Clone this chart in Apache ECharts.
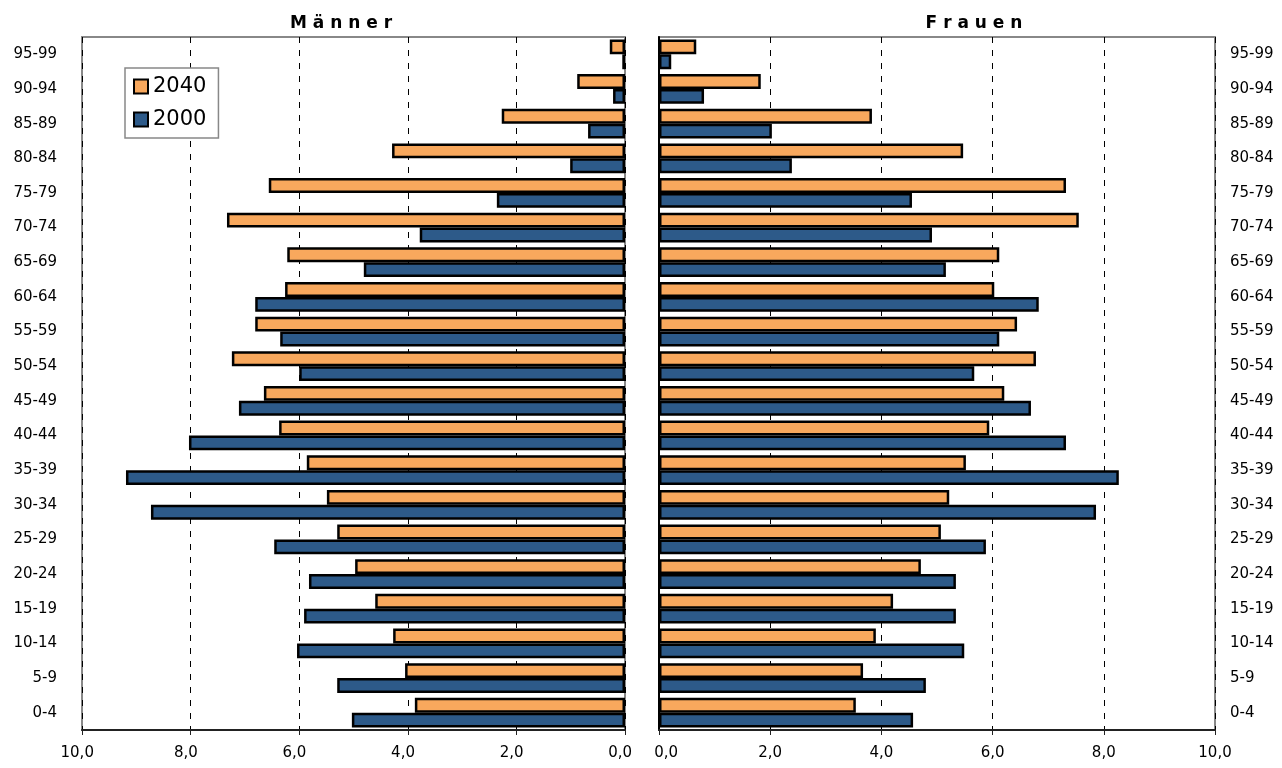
<!DOCTYPE html>
<html>
<head>
<meta charset="utf-8">
<script src="https://cdn.jsdelivr.net/npm/echarts@6/dist/echarts.min.js"></script>
<style>
  html, body { margin: 0; padding: 0; background: #fff; }
  #chart { width: 1282px; height: 768px; }
</style>
</head>
<body>
<div id="chart"></div>
<script>
// Altersgruppen, von unten nach oben
const ageGroups = ['0-4', '5-9', '10-14', '15-19', '20-24', '25-29', '30-34', '35-39', '40-44', '45-49',
  '50-54', '55-59', '60-64', '65-69', '70-74', '75-79', '80-84', '85-89', '90-94', '95-99']

// Männer (Prozent)
const men2040 = [3.87, 4.05, 4.27, 4.60, 4.97, 5.30, 5.49, 5.86, 6.37, 6.65,
  7.24, 6.81, 6.26, 6.22, 7.33, 6.56, 4.29, 2.27, 0.88, 0.28]
const men2000 = [5.03, 5.30, 6.04, 5.91, 5.82, 6.46, 8.73, 9.19, 8.03, 7.11,
  6.00, 6.35, 6.81, 4.81, 3.78, 2.36, 1.01, 0.68, 0.22, 0.05]

// Frauen (Prozent)
const women2040 = [3.54, 3.67, 3.90, 4.21, 4.71, 5.07, 5.22, 5.52, 5.94, 6.21,
  6.78, 6.44, 6.03, 6.12, 7.55, 7.32, 5.47, 3.83, 1.83, 0.67]
const women2000 = [4.57, 4.80, 5.49, 5.34, 5.34, 5.88, 7.86, 8.27, 7.32, 6.69,
  5.67, 6.12, 6.83, 5.16, 4.91, 4.55, 2.39, 2.03, 0.81, 0.22]

const xTicks = [0, 2, 4, 6, 8, 10]

const colors = { y2040: '#F8A85D', y2000: '#2D5A89' }
const fontFamily = '"DejaVu Sans", sans-serif'

const chart = echarts.init(document.getElementById('chart'))

const fmt = v => v.toFixed(1).replace('.', ',')
const nbsp = '\u00a0'

const xAxisBase = (gridIndex, inverse, formatter) => ({
  type: 'value',
  gridIndex,
  inverse,
  min: xTicks[0],
  max: xTicks[xTicks.length - 1],
  interval: 2,
  axisLine: { show: true, lineStyle: { color: '#222', width: 2 } },
  axisTick: { show: true, length: 5, lineStyle: { color: '#222' } },
  axisLabel: { formatter, color: '#000', fontSize: 15, fontFamily, margin: 16, showMinLabel: true, showMaxLabel: true },
  splitLine: { show: true, lineStyle: { color: '#000', type: [6, 7], width: 1 } }
})

const barSeries = (name, data, xi, yi, color) => ({
  name,
  type: 'bar',
  xAxisIndex: xi,
  yAxisIndex: yi,
  data,
  barGap: '0%',
  barCategoryGap: '14%',
  itemStyle: { color, borderColor: '#000', borderWidth: 2.5 }
})

const option = {
  animation: false,
  title: [
    { text: 'M ä n n e r', left: 336, top: 10, textAlign: 'center',
      textStyle: { fontSize: 17, fontWeight: 'bold', color: '#000', fontFamily } },
    { text: 'F r a u e n', left: 969, top: 10, textAlign: 'center',
      textStyle: { fontSize: 17, fontWeight: 'bold', color: '#000', fontFamily } }
  ],
  legend: {
    data: ['2040', '2000'],
    orient: 'vertical',
    left: 125,
    top: 68,
    padding: [8, 12, 8, 8],
    itemGap: 12,
    itemWidth: 14,
    itemHeight: 14,
    icon: 'rect',
    backgroundColor: '#fff',
    borderColor: '#888',
    borderWidth: 1.5,
    itemStyle: { borderColor: '#000', borderWidth: 2 },
    textStyle: { fontSize: 21, color: '#000', fontFamily }
  },
  grid: [
    { left: 82, right: 657, top: 37, bottom: 38, show: true, borderColor: '#888', borderWidth: 2, backgroundColor: '#fff' },
    { left: 659, right: 67, top: 37, bottom: 38, show: true, borderColor: '#888', borderWidth: 2, backgroundColor: '#fff' }
  ],
  xAxis: [
    // Männer: Beschriftung leicht nach links versetzt
    xAxisBase(0, true, v => fmt(v) + nbsp + nbsp),
    // Frauen: nur 0,0 nach rechts versetzt
    xAxisBase(1, false, v => v === 0 ? nbsp + nbsp + nbsp + fmt(v) : fmt(v))
  ],
  yAxis: [
    {
      type: 'category', gridIndex: 0, data: ageGroups, position: 'left',
      axisLine: { show: false }, axisTick: { show: false },
      axisLabel: { color: '#000', fontSize: 15, fontFamily, margin: 25 }
    },
    {
      type: 'category', gridIndex: 1, data: ageGroups, position: 'right',
      axisLine: { show: false }, axisTick: { show: false },
      axisLabel: { color: '#000', fontSize: 15, fontFamily, margin: 15 }
    },
    {
      type: 'category', gridIndex: 1, data: ageGroups, position: 'left',
      axisLine: { show: true, lineStyle: { color: '#000', width: 2 } },
      axisTick: { show: false }, axisLabel: { show: false }
    }
  ],
  series: [
    barSeries('2040', men2040, 0, 0, colors.y2040),
    barSeries('2000', men2000, 0, 0, colors.y2000),
    barSeries('2040', women2040, 1, 1, colors.y2040),
    barSeries('2000', women2000, 1, 1, colors.y2000)
  ]
}

chart.setOption(option)
</script>
</body>
</html>
